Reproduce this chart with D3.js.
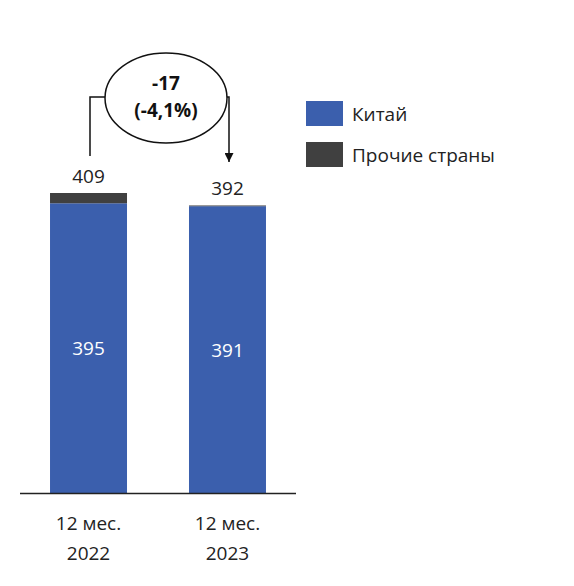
<!DOCTYPE html><html><head><meta charset="utf-8">
<script src="https://d3js.org/d3.v7.min.js"></script>
<style>body{margin:0;background:#fff}text{font-family:"Open Sans","Liberation Sans",sans-serif}</style></head>
<body><svg id="c" width="574" height="586"></svg>
<script>
const categories=["12 мес.\n2022","12 мес.\n2023"];
const china=[395,391];
const other=[14,1];
const totals=[409,392];
const seriesNames=["Китай","Прочие страны"];
const colors=["#3B5FAD","#404040"];
const delta=["-17","(-4,1%)"];

const svg=d3.select("#c");
const x=d3.scaleBand().domain(categories).range([20,296]).paddingInner(0.446).paddingOuter(0.216);
const y=d3.scaleLinear().domain([0,409]).range([493,193]);
const stack=categories.map((c,i)=>({c,v:[china[i],other[i]]}));
stack.forEach((d,i)=>{
  let base=0;
  d.v.forEach((v,j)=>{
    svg.append("rect").attr("x",x(d.c)).attr("width",x.bandwidth())
      .attr("y",y(base+v)).attr("height",y(base)-y(base+v)).attr("fill",colors[j]);
    base+=v;
  });
  svg.append("text").attr("x",x(d.c)+x.bandwidth()/2).attr("y",(y(0)+y(china[i]))/2+7)
    .attr("text-anchor","middle").attr("fill","#fff").attr("font-size",19).text(china[i]);
  svg.append("text").attr("x",x(d.c)+x.bandwidth()/2).attr("y",y(totals[i])-10)
    .attr("text-anchor","middle").attr("fill","#222").attr("font-size",19).text(totals[i]);
  const lines=d.c.split("\n");
  lines.forEach((l,k)=>svg.append("text").attr("x",x(d.c)+x.bandwidth()/2).attr("y",530+k*30)
    .attr("text-anchor","middle").attr("fill","#222").attr("font-size",19).text(l));
});
svg.append("line").attr("x1",20).attr("x2",296).attr("y1",493.5).attr("y2",493.5).attr("stroke","#222").attr("stroke-width",1.5);

seriesNames.forEach((n,i)=>{
  svg.append("rect").attr("x",306).attr("y",101+i*41).attr("width",37).attr("height",25).attr("fill",colors[i]);
  svg.append("text").attr("x",352).attr("y",121+i*41).attr("font-size",19).attr("fill","#222").text(n);
});

svg.append("defs").append("marker").attr("id","ah").attr("viewBox","0 0 10 10").attr("refX",10).attr("refY",5)
 .attr("markerWidth",6).attr("markerHeight",6).attr("orient","auto")
 .append("path").attr("d","M0,0L10,5L0,10Z").attr("fill","#111");
svg.append("path").attr("d",`M90,156V97H106`).attr("fill","none").attr("stroke","#111").attr("stroke-width",1.5);
svg.append("path").attr("d",`M225,97H229V162`).attr("fill","none").attr("stroke","#111").attr("stroke-width",1.5).attr("marker-end","url(#ah)");
svg.append("ellipse").attr("cx",166).attr("cy",98).attr("rx",61).attr("ry",45).attr("fill","#fff").attr("stroke","#111").attr("stroke-width",1.5);
delta.forEach((t,k)=>svg.append("text").attr("x",166).attr("y",90+k*27).attr("text-anchor","middle")
 .attr("font-size",19).attr("font-weight","bold").attr("fill","#111").text(t));
</script></body></html>
